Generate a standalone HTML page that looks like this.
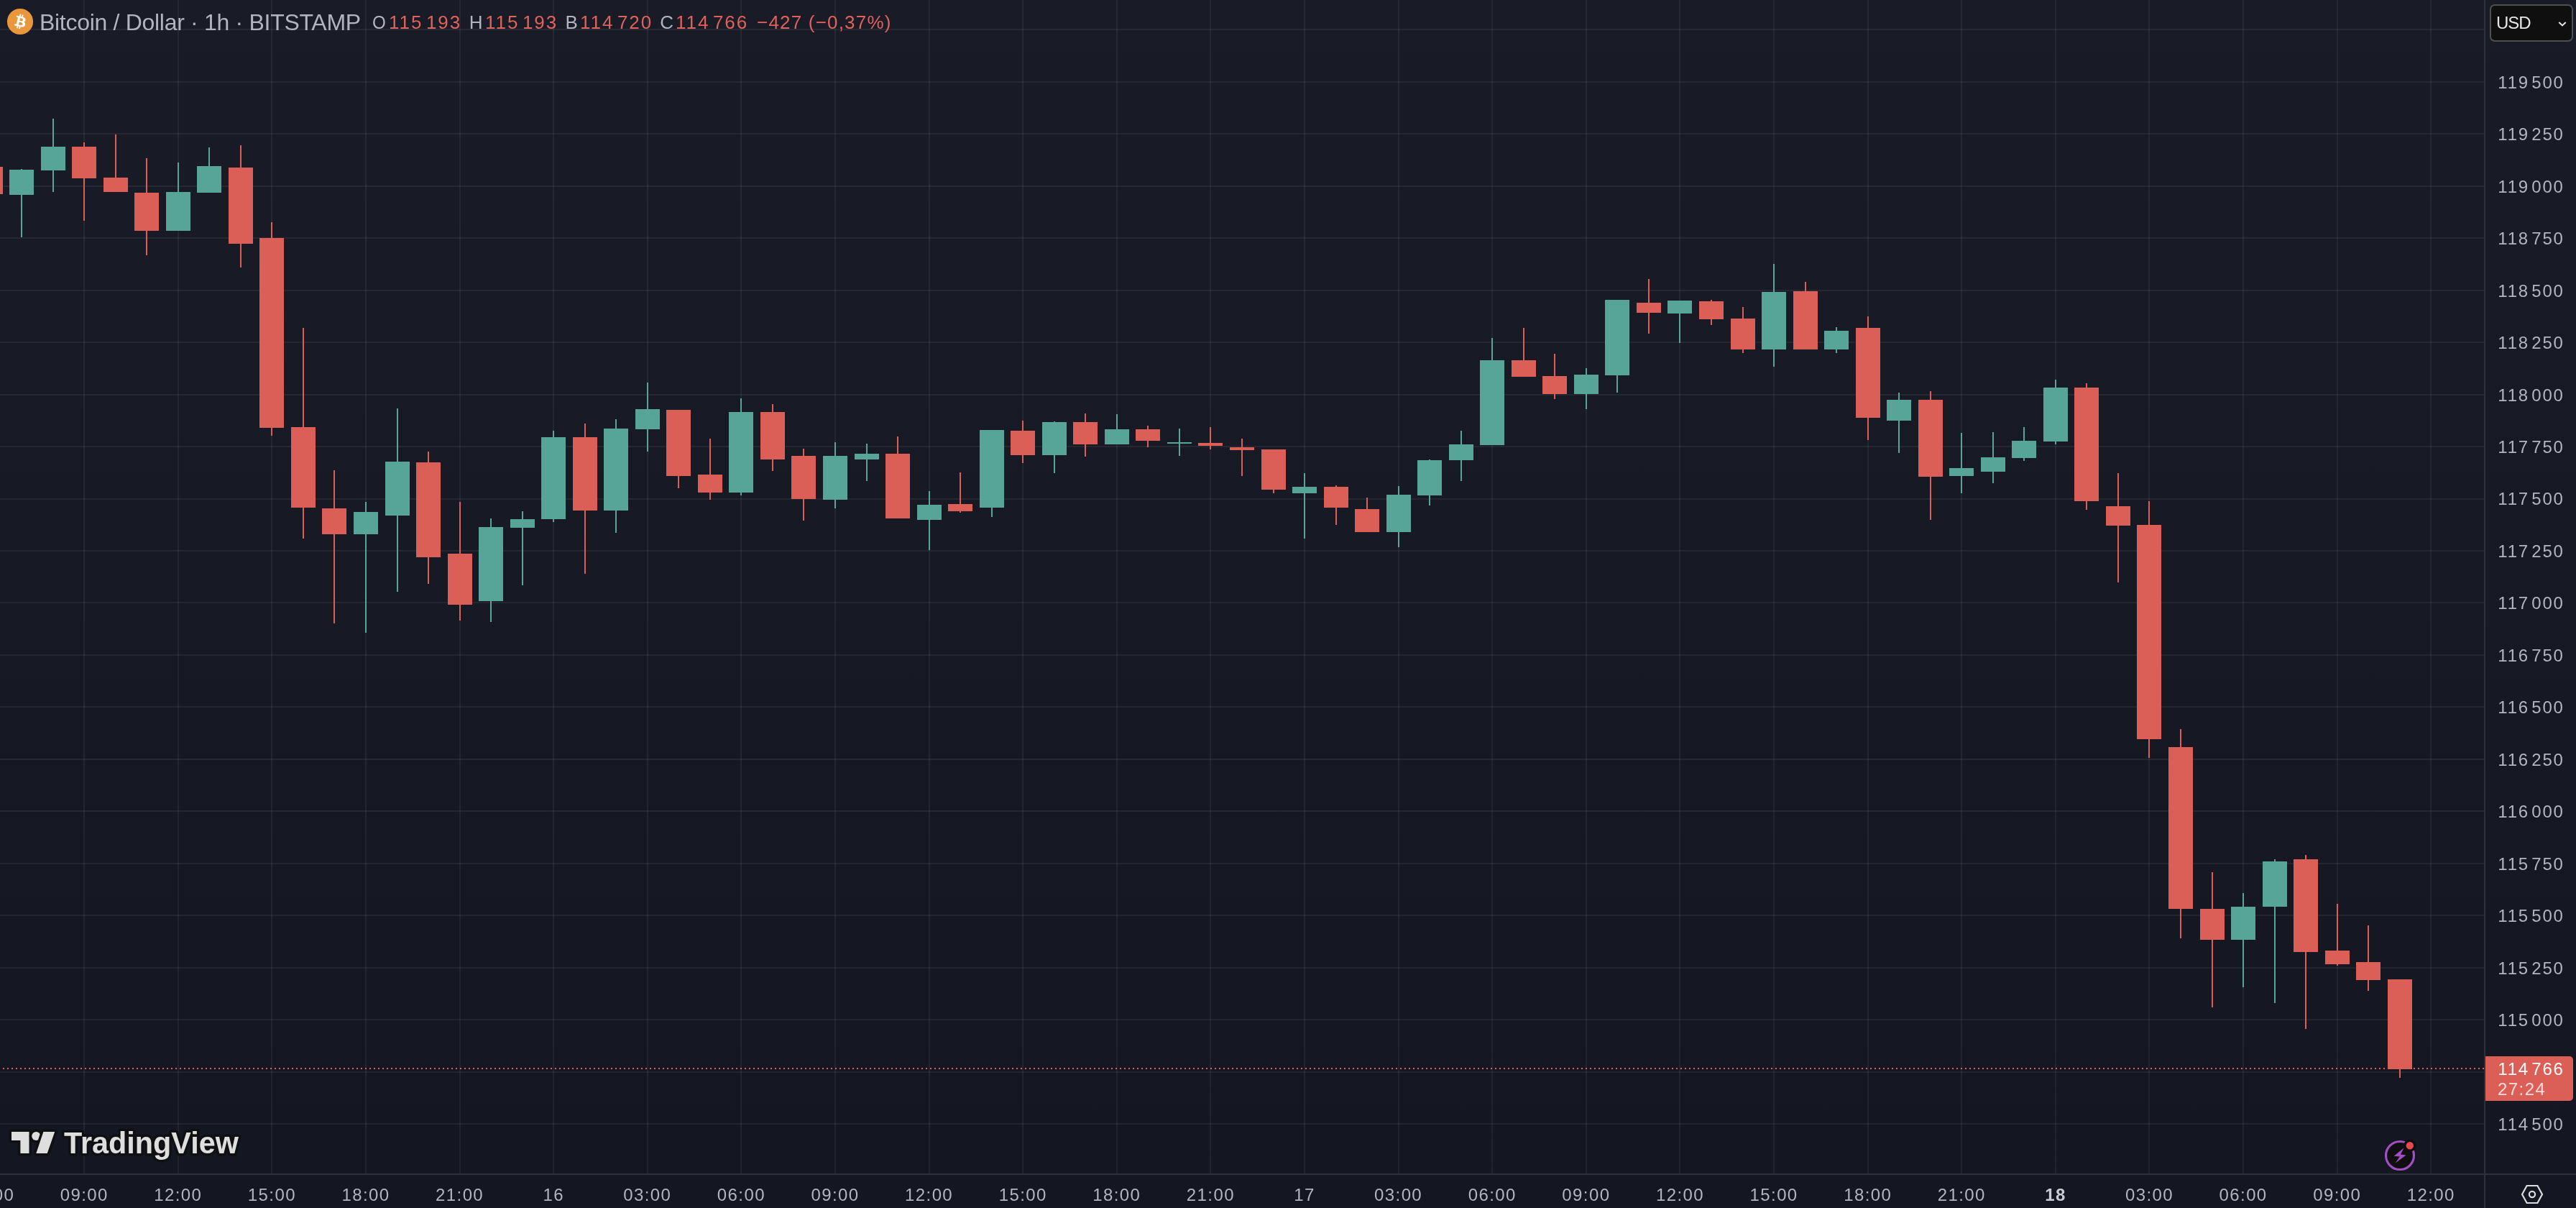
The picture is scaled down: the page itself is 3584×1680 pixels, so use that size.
<!DOCTYPE html>
<html><head><meta charset="utf-8"><title>BTCUSD</title>
<style>
html,body{margin:0;padding:0;background:#141621;}
body{width:3584px;height:1680px;overflow:hidden;position:relative;font-family:"Liberation Sans",sans-serif;}
#bg{position:absolute;left:0;top:0;width:3584px;height:1680px;background:linear-gradient(#191b27,#141621);}
#chart{position:absolute;left:0;top:0;}
.axv{position:absolute;left:3456px;top:0;width:2px;height:1680px;background:#2e313c;}
.axh{position:absolute;left:0;top:1632px;width:3584px;height:2px;background:#2e313c;}
.pl{position:absolute;left:3475.3px;width:100px;height:40px;line-height:40px;font-size:24px;color:#b2b5be;white-space:nowrap;letter-spacing:1.8px;}
.tl{position:absolute;top:1641.6px;width:200px;text-align:center;height:40px;line-height:40px;font-size:24px;color:#b2b5be;white-space:nowrap;letter-spacing:1.4px;}
.tl.b{font-weight:bold;color:#c9ccd3;}
#title{position:absolute;left:55px;top:11.4px;height:40px;line-height:40px;font-size:32px;letter-spacing:-0.3px;color:#b2b5be;white-space:nowrap;}
.oh{position:absolute;top:10.6px;height:40px;line-height:40px;font-size:26px;white-space:nowrap;color:#e0625a;}
.oh.k{color:#b2b5be;transform-origin:0 50%;}
.oh.v{letter-spacing:1.95px;}
.g{display:inline-block;width:3.3px;}
.g2{display:inline-block;width:4.6px;}
.oh.c{letter-spacing:1.2px;}
#usd{position:absolute;left:3464px;top:6px;width:112px;height:48px;border:2px solid #4f4f4f;border-radius:7px;background:#0f0f0f;box-sizing:content-box;}
#usd span{position:absolute;left:7px;top:4px;height:40px;line-height:40px;font-size:24px;color:#e6e6e6;letter-spacing:-1px;}
#price{position:absolute;left:3458px;top:1469px;width:122px;height:62px;background:#db5f57;border-radius:0 5px 5px 0;}
#price .a{position:absolute;left:17.3px;top:-2.3px;height:40px;line-height:40px;font-size:24px;color:#fff;white-space:nowrap;letter-spacing:1.8px;}
#price .b{position:absolute;left:16.9px;top:25.5px;height:40px;line-height:40px;font-size:24px;color:rgba(255,255,255,.78);white-space:nowrap;letter-spacing:1.5px;}
#dots{position:absolute;left:4px;top:1485px;width:3452px;height:2px;background:repeating-linear-gradient(90deg,#db5f57 0 2px,transparent 2px 6px);}
#txt{position:absolute;left:0;top:0;width:3584px;height:1680px;will-change:transform;}
#price{will-change:transform;}
</style></head><body>
<div id="bg"></div>
<svg id="chart" width="3584" height="1680" viewBox="0 0 3584 1680" shape-rendering="crispEdges">
<rect x="0" y="40" width="3457" height="2" fill="#fff" fill-opacity=".06"/>
<rect x="0" y="113" width="3457" height="2" fill="#fff" fill-opacity=".06"/>
<rect x="0" y="185" width="3457" height="2" fill="#fff" fill-opacity=".06"/>
<rect x="0" y="258" width="3457" height="2" fill="#fff" fill-opacity=".06"/>
<rect x="0" y="330" width="3457" height="2" fill="#fff" fill-opacity=".06"/>
<rect x="0" y="403" width="3457" height="2" fill="#fff" fill-opacity=".06"/>
<rect x="0" y="475" width="3457" height="2" fill="#fff" fill-opacity=".06"/>
<rect x="0" y="548" width="3457" height="2" fill="#fff" fill-opacity=".06"/>
<rect x="0" y="620" width="3457" height="2" fill="#fff" fill-opacity=".06"/>
<rect x="0" y="693" width="3457" height="2" fill="#fff" fill-opacity=".06"/>
<rect x="0" y="765" width="3457" height="2" fill="#fff" fill-opacity=".06"/>
<rect x="0" y="837" width="3457" height="2" fill="#fff" fill-opacity=".06"/>
<rect x="0" y="910" width="3457" height="2" fill="#fff" fill-opacity=".06"/>
<rect x="0" y="982" width="3457" height="2" fill="#fff" fill-opacity=".06"/>
<rect x="0" y="1055" width="3457" height="2" fill="#fff" fill-opacity=".06"/>
<rect x="0" y="1127" width="3457" height="2" fill="#fff" fill-opacity=".06"/>
<rect x="0" y="1200" width="3457" height="2" fill="#fff" fill-opacity=".06"/>
<rect x="0" y="1272" width="3457" height="2" fill="#fff" fill-opacity=".06"/>
<rect x="0" y="1345" width="3457" height="2" fill="#fff" fill-opacity=".06"/>
<rect x="0" y="1417" width="3457" height="2" fill="#fff" fill-opacity=".06"/>
<rect x="0" y="1490" width="3457" height="2" fill="#fff" fill-opacity=".06"/>
<rect x="0" y="1562" width="3457" height="2" fill="#fff" fill-opacity=".06"/>
<rect x="116" y="0" width="2" height="1633" fill="#fff" fill-opacity=".06"/>
<rect x="247" y="0" width="2" height="1633" fill="#fff" fill-opacity=".06"/>
<rect x="377" y="0" width="2" height="1633" fill="#fff" fill-opacity=".06"/>
<rect x="508" y="0" width="2" height="1633" fill="#fff" fill-opacity=".06"/>
<rect x="639" y="0" width="2" height="1633" fill="#fff" fill-opacity=".06"/>
<rect x="769" y="0" width="2" height="1633" fill="#fff" fill-opacity=".06"/>
<rect x="900" y="0" width="2" height="1633" fill="#fff" fill-opacity=".06"/>
<rect x="1030" y="0" width="2" height="1633" fill="#fff" fill-opacity=".06"/>
<rect x="1161" y="0" width="2" height="1633" fill="#fff" fill-opacity=".06"/>
<rect x="1292" y="0" width="2" height="1633" fill="#fff" fill-opacity=".06"/>
<rect x="1422" y="0" width="2" height="1633" fill="#fff" fill-opacity=".06"/>
<rect x="1553" y="0" width="2" height="1633" fill="#fff" fill-opacity=".06"/>
<rect x="1683" y="0" width="2" height="1633" fill="#fff" fill-opacity=".06"/>
<rect x="1814" y="0" width="2" height="1633" fill="#fff" fill-opacity=".06"/>
<rect x="1945" y="0" width="2" height="1633" fill="#fff" fill-opacity=".06"/>
<rect x="2075" y="0" width="2" height="1633" fill="#fff" fill-opacity=".06"/>
<rect x="2206" y="0" width="2" height="1633" fill="#fff" fill-opacity=".06"/>
<rect x="2336" y="0" width="2" height="1633" fill="#fff" fill-opacity=".06"/>
<rect x="2467" y="0" width="2" height="1633" fill="#fff" fill-opacity=".06"/>
<rect x="2598" y="0" width="2" height="1633" fill="#fff" fill-opacity=".06"/>
<rect x="2728" y="0" width="2" height="1633" fill="#fff" fill-opacity=".06"/>
<rect x="2859" y="0" width="2" height="1633" fill="#fff" fill-opacity=".06"/>
<rect x="2989" y="0" width="2" height="1633" fill="#fff" fill-opacity=".06"/>
<rect x="3120" y="0" width="2" height="1633" fill="#fff" fill-opacity=".06"/>
<rect x="3251" y="0" width="2" height="1633" fill="#fff" fill-opacity=".06"/>
<rect x="3381" y="0" width="2" height="1633" fill="#fff" fill-opacity=".06"/>
<rect x="-30" y="232" width="34" height="38" fill="#db5f57"/>
<rect x="29" y="235" width="2" height="95" fill="#57a499"/>
<rect x="13" y="236" width="34" height="35" fill="#57a499"/>
<rect x="73" y="165" width="2" height="102" fill="#57a499"/>
<rect x="57" y="204" width="34" height="33" fill="#57a499"/>
<rect x="116" y="198" width="2" height="109" fill="#db5f57"/>
<rect x="100" y="204" width="34" height="44" fill="#db5f57"/>
<rect x="160" y="187" width="2" height="80" fill="#db5f57"/>
<rect x="144" y="247" width="34" height="20" fill="#db5f57"/>
<rect x="203" y="220" width="2" height="135" fill="#db5f57"/>
<rect x="187" y="268" width="34" height="53" fill="#db5f57"/>
<rect x="247" y="226" width="2" height="95" fill="#57a499"/>
<rect x="231" y="267" width="34" height="54" fill="#57a499"/>
<rect x="290" y="205" width="2" height="63" fill="#57a499"/>
<rect x="274" y="231" width="34" height="37" fill="#57a499"/>
<rect x="334" y="202" width="2" height="170" fill="#db5f57"/>
<rect x="318" y="233" width="34" height="106" fill="#db5f57"/>
<rect x="377" y="309" width="2" height="297" fill="#db5f57"/>
<rect x="361" y="331" width="34" height="264" fill="#db5f57"/>
<rect x="421" y="456" width="2" height="293" fill="#db5f57"/>
<rect x="405" y="594" width="34" height="112" fill="#db5f57"/>
<rect x="464" y="654" width="2" height="213" fill="#db5f57"/>
<rect x="448" y="707" width="34" height="36" fill="#db5f57"/>
<rect x="508" y="698" width="2" height="182" fill="#57a499"/>
<rect x="492" y="712" width="34" height="31" fill="#57a499"/>
<rect x="552" y="568" width="2" height="255" fill="#57a499"/>
<rect x="536" y="642" width="34" height="75" fill="#57a499"/>
<rect x="595" y="628" width="2" height="184" fill="#db5f57"/>
<rect x="579" y="643" width="34" height="132" fill="#db5f57"/>
<rect x="639" y="698" width="2" height="165" fill="#db5f57"/>
<rect x="623" y="770" width="34" height="71" fill="#db5f57"/>
<rect x="682" y="721" width="2" height="144" fill="#57a499"/>
<rect x="666" y="733" width="34" height="103" fill="#57a499"/>
<rect x="726" y="711" width="2" height="103" fill="#57a499"/>
<rect x="710" y="722" width="34" height="12" fill="#57a499"/>
<rect x="769" y="599" width="2" height="127" fill="#57a499"/>
<rect x="753" y="608" width="34" height="114" fill="#57a499"/>
<rect x="813" y="589" width="2" height="209" fill="#db5f57"/>
<rect x="797" y="608" width="34" height="102" fill="#db5f57"/>
<rect x="856" y="583" width="2" height="158" fill="#57a499"/>
<rect x="840" y="596" width="34" height="114" fill="#57a499"/>
<rect x="900" y="532" width="2" height="96" fill="#57a499"/>
<rect x="884" y="569" width="34" height="28" fill="#57a499"/>
<rect x="943" y="570" width="2" height="109" fill="#db5f57"/>
<rect x="927" y="570" width="34" height="92" fill="#db5f57"/>
<rect x="987" y="610" width="2" height="85" fill="#db5f57"/>
<rect x="971" y="660" width="34" height="25" fill="#db5f57"/>
<rect x="1030" y="554" width="2" height="135" fill="#57a499"/>
<rect x="1014" y="573" width="34" height="112" fill="#57a499"/>
<rect x="1074" y="562" width="2" height="93" fill="#db5f57"/>
<rect x="1058" y="573" width="34" height="66" fill="#db5f57"/>
<rect x="1117" y="624" width="2" height="100" fill="#db5f57"/>
<rect x="1101" y="634" width="34" height="60" fill="#db5f57"/>
<rect x="1161" y="615" width="2" height="92" fill="#57a499"/>
<rect x="1145" y="634" width="34" height="61" fill="#57a499"/>
<rect x="1205" y="617" width="2" height="52" fill="#57a499"/>
<rect x="1189" y="631" width="34" height="8" fill="#57a499"/>
<rect x="1248" y="607" width="2" height="114" fill="#db5f57"/>
<rect x="1232" y="631" width="34" height="90" fill="#db5f57"/>
<rect x="1292" y="683" width="2" height="82" fill="#57a499"/>
<rect x="1276" y="702" width="34" height="21" fill="#57a499"/>
<rect x="1335" y="657" width="2" height="56" fill="#db5f57"/>
<rect x="1319" y="701" width="34" height="10" fill="#db5f57"/>
<rect x="1379" y="598" width="2" height="121" fill="#57a499"/>
<rect x="1363" y="598" width="34" height="108" fill="#57a499"/>
<rect x="1422" y="585" width="2" height="59" fill="#db5f57"/>
<rect x="1406" y="599" width="34" height="34" fill="#db5f57"/>
<rect x="1466" y="586" width="2" height="72" fill="#57a499"/>
<rect x="1450" y="587" width="34" height="46" fill="#57a499"/>
<rect x="1509" y="575" width="2" height="60" fill="#db5f57"/>
<rect x="1493" y="587" width="34" height="31" fill="#db5f57"/>
<rect x="1553" y="576" width="2" height="42" fill="#57a499"/>
<rect x="1537" y="597" width="34" height="21" fill="#57a499"/>
<rect x="1596" y="592" width="2" height="30" fill="#db5f57"/>
<rect x="1580" y="597" width="34" height="16" fill="#db5f57"/>
<rect x="1640" y="596" width="2" height="38" fill="#57a499"/>
<rect x="1624" y="615" width="34" height="2" fill="#57a499"/>
<rect x="1683" y="594" width="2" height="31" fill="#db5f57"/>
<rect x="1667" y="616" width="34" height="4" fill="#db5f57"/>
<rect x="1727" y="610" width="2" height="52" fill="#db5f57"/>
<rect x="1711" y="622" width="34" height="4" fill="#db5f57"/>
<rect x="1771" y="625" width="2" height="61" fill="#db5f57"/>
<rect x="1755" y="625" width="34" height="56" fill="#db5f57"/>
<rect x="1814" y="658" width="2" height="91" fill="#57a499"/>
<rect x="1798" y="677" width="34" height="9" fill="#57a499"/>
<rect x="1858" y="675" width="2" height="55" fill="#db5f57"/>
<rect x="1842" y="677" width="34" height="29" fill="#db5f57"/>
<rect x="1901" y="692" width="2" height="48" fill="#db5f57"/>
<rect x="1885" y="708" width="34" height="32" fill="#db5f57"/>
<rect x="1945" y="676" width="2" height="85" fill="#57a499"/>
<rect x="1929" y="688" width="34" height="52" fill="#57a499"/>
<rect x="1988" y="639" width="2" height="64" fill="#57a499"/>
<rect x="1972" y="640" width="34" height="49" fill="#57a499"/>
<rect x="2032" y="599" width="2" height="70" fill="#57a499"/>
<rect x="2016" y="618" width="34" height="22" fill="#57a499"/>
<rect x="2075" y="470" width="2" height="149" fill="#57a499"/>
<rect x="2059" y="501" width="34" height="118" fill="#57a499"/>
<rect x="2119" y="456" width="2" height="68" fill="#db5f57"/>
<rect x="2103" y="501" width="34" height="23" fill="#db5f57"/>
<rect x="2162" y="492" width="2" height="63" fill="#db5f57"/>
<rect x="2146" y="523" width="34" height="25" fill="#db5f57"/>
<rect x="2206" y="512" width="2" height="57" fill="#57a499"/>
<rect x="2190" y="521" width="34" height="27" fill="#57a499"/>
<rect x="2249" y="417" width="2" height="129" fill="#57a499"/>
<rect x="2233" y="417" width="34" height="105" fill="#57a499"/>
<rect x="2293" y="388" width="2" height="76" fill="#db5f57"/>
<rect x="2277" y="421" width="34" height="14" fill="#db5f57"/>
<rect x="2336" y="418" width="2" height="59" fill="#57a499"/>
<rect x="2320" y="418" width="34" height="18" fill="#57a499"/>
<rect x="2380" y="417" width="2" height="35" fill="#db5f57"/>
<rect x="2364" y="419" width="34" height="25" fill="#db5f57"/>
<rect x="2424" y="427" width="2" height="64" fill="#db5f57"/>
<rect x="2408" y="443" width="34" height="43" fill="#db5f57"/>
<rect x="2467" y="367" width="2" height="143" fill="#57a499"/>
<rect x="2451" y="406" width="34" height="80" fill="#57a499"/>
<rect x="2511" y="392" width="2" height="94" fill="#db5f57"/>
<rect x="2495" y="405" width="34" height="81" fill="#db5f57"/>
<rect x="2554" y="455" width="2" height="36" fill="#57a499"/>
<rect x="2538" y="460" width="34" height="26" fill="#57a499"/>
<rect x="2598" y="440" width="2" height="172" fill="#db5f57"/>
<rect x="2582" y="456" width="34" height="125" fill="#db5f57"/>
<rect x="2641" y="546" width="2" height="84" fill="#57a499"/>
<rect x="2625" y="556" width="34" height="29" fill="#57a499"/>
<rect x="2685" y="544" width="2" height="179" fill="#db5f57"/>
<rect x="2669" y="556" width="34" height="107" fill="#db5f57"/>
<rect x="2728" y="602" width="2" height="84" fill="#57a499"/>
<rect x="2712" y="651" width="34" height="11" fill="#57a499"/>
<rect x="2772" y="601" width="2" height="71" fill="#57a499"/>
<rect x="2756" y="636" width="34" height="20" fill="#57a499"/>
<rect x="2815" y="594" width="2" height="47" fill="#57a499"/>
<rect x="2799" y="613" width="34" height="24" fill="#57a499"/>
<rect x="2859" y="528" width="2" height="90" fill="#57a499"/>
<rect x="2843" y="539" width="34" height="75" fill="#57a499"/>
<rect x="2902" y="533" width="2" height="176" fill="#db5f57"/>
<rect x="2886" y="539" width="34" height="158" fill="#db5f57"/>
<rect x="2946" y="658" width="2" height="152" fill="#db5f57"/>
<rect x="2930" y="704" width="34" height="27" fill="#db5f57"/>
<rect x="2989" y="697" width="2" height="357" fill="#db5f57"/>
<rect x="2973" y="730" width="34" height="298" fill="#db5f57"/>
<rect x="3033" y="1014" width="2" height="291" fill="#db5f57"/>
<rect x="3017" y="1039" width="34" height="225" fill="#db5f57"/>
<rect x="3077" y="1213" width="2" height="188" fill="#db5f57"/>
<rect x="3061" y="1264" width="34" height="43" fill="#db5f57"/>
<rect x="3120" y="1242" width="2" height="131" fill="#57a499"/>
<rect x="3104" y="1261" width="34" height="46" fill="#57a499"/>
<rect x="3164" y="1195" width="2" height="200" fill="#57a499"/>
<rect x="3148" y="1198" width="34" height="63" fill="#57a499"/>
<rect x="3207" y="1189" width="2" height="242" fill="#db5f57"/>
<rect x="3191" y="1195" width="34" height="129" fill="#db5f57"/>
<rect x="3251" y="1257" width="2" height="86" fill="#db5f57"/>
<rect x="3235" y="1322" width="34" height="19" fill="#db5f57"/>
<rect x="3294" y="1287" width="2" height="91" fill="#db5f57"/>
<rect x="3278" y="1338" width="34" height="25" fill="#db5f57"/>
<rect x="3338" y="1362" width="2" height="137" fill="#db5f57"/>
<rect x="3322" y="1362" width="34" height="125" fill="#db5f57"/>
</svg>
<div id="dots"></div>
<div class="axv"></div><div class="axh"></div>
<div id="txt">
<div class="pl" style="top:94.7px">119<i class="g"></i>500</div>
<div class="pl" style="top:167.2px">119<i class="g"></i>250</div>
<div class="pl" style="top:239.6px">119<i class="g"></i>000</div>
<div class="pl" style="top:312.1px">118<i class="g"></i>750</div>
<div class="pl" style="top:384.5px">118<i class="g"></i>500</div>
<div class="pl" style="top:457.0px">118<i class="g"></i>250</div>
<div class="pl" style="top:529.5px">118<i class="g"></i>000</div>
<div class="pl" style="top:601.9px">117<i class="g"></i>750</div>
<div class="pl" style="top:674.4px">117<i class="g"></i>500</div>
<div class="pl" style="top:746.8px">117<i class="g"></i>250</div>
<div class="pl" style="top:819.3px">117<i class="g"></i>000</div>
<div class="pl" style="top:891.8px">116<i class="g"></i>750</div>
<div class="pl" style="top:964.2px">116<i class="g"></i>500</div>
<div class="pl" style="top:1036.7px">116<i class="g"></i>250</div>
<div class="pl" style="top:1109.1px">116<i class="g"></i>000</div>
<div class="pl" style="top:1181.6px">115<i class="g"></i>750</div>
<div class="pl" style="top:1254.1px">115<i class="g"></i>500</div>
<div class="pl" style="top:1326.5px">115<i class="g"></i>250</div>
<div class="pl" style="top:1399.0px">115<i class="g"></i>000</div>
<div class="pl" style="top:1471.4px">114<i class="g"></i>750</div>
<div class="pl" style="top:1543.9px">114<i class="g"></i>500</div>
<div class="tl" style="left:-113.4px">06:00</div>
<div class="tl" style="left:17.2px">09:00</div>
<div class="tl" style="left:147.8px">12:00</div>
<div class="tl" style="left:278.4px">15:00</div>
<div class="tl" style="left:409.0px">18:00</div>
<div class="tl" style="left:539.6px">21:00</div>
<div class="tl" style="left:670.2px">16</div>
<div class="tl" style="left:800.8px">03:00</div>
<div class="tl" style="left:931.4px">06:00</div>
<div class="tl" style="left:1062.0px">09:00</div>
<div class="tl" style="left:1192.6px">12:00</div>
<div class="tl" style="left:1323.2px">15:00</div>
<div class="tl" style="left:1453.8px">18:00</div>
<div class="tl" style="left:1584.4px">21:00</div>
<div class="tl" style="left:1715.0px">17</div>
<div class="tl" style="left:1845.6px">03:00</div>
<div class="tl" style="left:1976.2px">06:00</div>
<div class="tl" style="left:2106.9px">09:00</div>
<div class="tl" style="left:2237.5px">12:00</div>
<div class="tl" style="left:2368.1px">15:00</div>
<div class="tl" style="left:2498.7px">18:00</div>
<div class="tl" style="left:2629.3px">21:00</div>
<div class="tl b" style="left:2759.9px">18</div>
<div class="tl" style="left:2890.5px">03:00</div>
<div class="tl" style="left:3021.1px">06:00</div>
<div class="tl" style="left:3151.7px">09:00</div>
<div class="tl" style="left:3282.3px">12:00</div>
<svg id="btc" width="40" height="40" viewBox="0 0 40 40" style="position:absolute;left:8px;top:10px">
<circle cx="20" cy="20" r="18.1" fill="#e9973c"/>
<g transform="translate(20 20) scale(1.04) translate(-16 -16)"><path fill="#fff" d="M23.189 14.02c.314-2.096-1.283-3.223-3.465-3.975l.708-2.84-1.728-.43-.69 2.765c-.454-.114-.92-.22-1.385-.326l.695-2.783L15.596 6l-.708 2.839c-.376-.086-.746-.17-1.104-.26l.002-.009-2.384-.595-.46 1.846s1.283.294 1.256.312c.7.175.826.638.805 1.006l-.806 3.235c.048.012.11.03.18.057l-.183-.045-1.13 4.532c-.086.212-.303.531-.793.41.018.025-1.256-.313-1.256-.313l-.858 1.978 2.25.561c.418.105.828.215 1.231.318l-.715 2.872 1.727.43.708-2.84c.472.127.93.245 1.378.357l-.706 2.828 1.728.43.715-2.866c2.948.558 5.164.333 6.097-2.333.752-2.146-.037-3.385-1.588-4.192 1.13-.26 1.98-1.003 2.207-2.538zm-3.95 5.538c-.533 2.147-4.148.986-5.32.695l.95-3.805c1.172.293 4.929.872 4.37 3.11zm.535-5.569c-.487 1.953-3.495.96-4.47.717l.86-3.45c.975.243 4.118.696 3.61 2.733z"/></g>
</svg>
<div id="title">Bitcoin / Dollar &middot; 1h &middot; BITSTAMP</div>
<div class="oh k" style="left:518.4px;transform:scaleX(.93)">O</div><div class="oh v" style="left:541px">115<i class="g2"></i>193</div>
<div class="oh k" style="left:652.8px">H</div><div class="oh v" style="left:675px">115<i class="g2"></i>193</div>
<div class="oh k" style="left:786.4px">B</div><div class="oh v" style="left:807px">114<i class="g2"></i>720</div>
<div class="oh k" style="left:918.2px">C</div><div class="oh v" style="left:940px">114<i class="g2"></i>766</div>
<div class="oh c" style="left:1053px">&minus;427 (&minus;0,37%)</div>
<div id="usd"><span>USD</span>
<svg width="16" height="12" viewBox="0 0 16 12" style="position:absolute;left:92px;top:19.6px"><path d="M2.3 3 L7 7.4 L11.7 3" fill="none" stroke="#e8e8e8" stroke-width="2"/></svg></div>
</div>
<div id="price"><div class="a">114<i class="g"></i>766</div><div class="b">27:24</div></div>
<svg id="tv" width="360" height="70" viewBox="0 0 360 70" style="position:absolute;left:0;top:1560px;will-change:transform">
<g fill="#dedede" stroke="#101012" stroke-width="7" stroke-linejoin="round" paint-order="stroke">
<path d="M16 14H40.5V44H28.4V26H16Z"/>
<circle cx="50.3" cy="20" r="6.1"/>
<path d="M60.4 14H76.2L65.7 44H50.3Z"/>
<text x="0" y="0" transform="translate(89 44) scale(0.985 1)" font-family="Liberation Sans, sans-serif" font-weight="bold" font-size="42">TradingView</text>
</g></svg>
<svg id="bolt" width="64" height="64" viewBox="0 0 64 64" style="position:absolute;left:3307px;top:1575px">
<circle cx="32" cy="32" r="21.6" fill="#0f0f11"/>
<circle cx="32" cy="32" r="19.5" fill="#0f0f11" stroke="#a24fc5" stroke-width="3.2"/>
<path d="M37.6 21.4 L23.6 32.7 L31.8 33.4 L25.7 42.5 L40.5 31.4 L33 30.5 Z" fill="#a24fc5"/>
<circle cx="45.8" cy="18.2" r="8.6" fill="#0f0f11"/>
<circle cx="45.8" cy="18.2" r="5.2" fill="#e5494e"/>
</svg>
<svg id="gear" width="40" height="36" viewBox="0 0 40 36" style="position:absolute;left:3503px;top:1643px">
<path d="M6 18 L12.6 6 H27.4 L34 18 L27.4 30 H12.6 Z" fill="none" stroke="#dcdcdc" stroke-width="2.2" stroke-linejoin="miter"/>
<circle cx="20" cy="18" r="4.1" fill="none" stroke="#dcdcdc" stroke-width="2.2"/>
</svg>
</body></html>
